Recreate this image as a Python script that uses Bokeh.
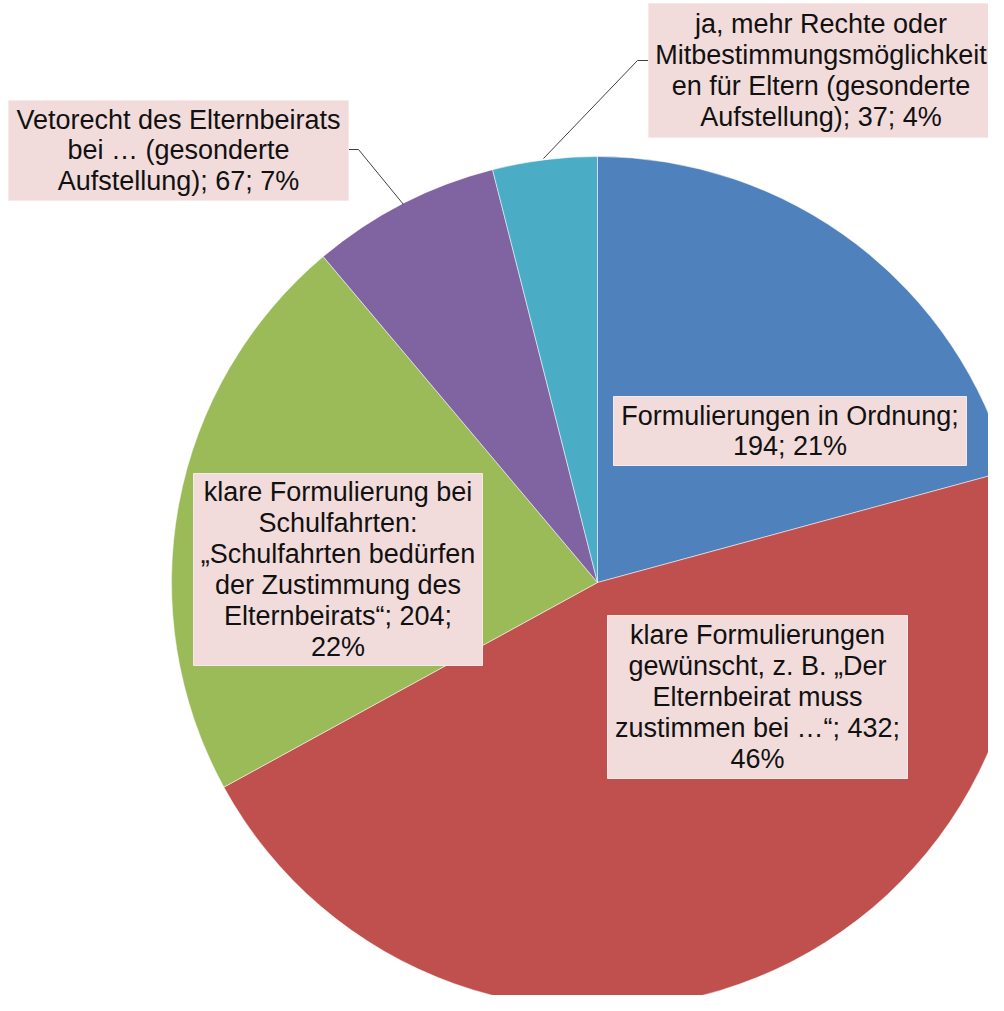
import numpy as np
from bokeh.plotting import figure
from bokeh.models import Range1d, ColumnDataSource
from bokeh.core.properties import value
from bokeh.embed import file_html
from bokeh.resources import INLINE

# ---- data ----
categories = [
    "Formulierungen in Ordnung",
    "klare Formulierungen gewünscht",
    "klare Formulierung bei Schulfahrten",
    "Vetorecht des Elternbeirats",
    "ja, mehr Rechte oder Mitbestimmungsmöglichkeiten",
]
counts = [194, 432, 204, 67, 37]
colors = ["#4F81BD", "#C0504D", "#9BBB59", "#8064A2", "#4BACC6"]
label_texts = [
    "Formulierungen in Ordnung;\n194; 21%",
    "klare Formulierungen\ngewünscht, z. B. „Der\nElternbeirat muss\nzustimmen bei …“; 432;\n46%",
    "klare Formulierung bei\nSchulfahrten:\n„Schulfahrten bedürfen\nder Zustimmung des\nElternbeirats“; 204;\n22%",
    "Vetorecht des Elternbeirats\nbei … (gesonderte\nAufstellung); 67; 7%",
    "ja, mehr Rechte oder\nMitbestimmungsmöglichkeit\nen für Eltern (gesonderte\nAufstellung); 37; 4%",
]

# ---- layout (pixel coords of the reference; y down) ----
W, H = 988, 995
CX, CY, R = 597, 582, 426
# label boxes: (left, top, right, bottom)
boxes = [
    (613, 396, 966, 465),
    (607, 615, 907, 778),
    (193, 473, 482, 665),
    (8, 100, 348, 200),
    (648, 3, 993, 137),
]
leaders = {
    3: [(348, 149), (358, 149), (403, 204)],
    4: [(648, 60), (637, 60), (543, 158)],
}

TOP = 1011

def fy(y):
    return TOP - y

p = figure(width=W, height=H, output_backend="svg", toolbar_location=None,
           x_range=Range1d(0, W), y_range=Range1d(fy(H), fy(0)),
           min_border=0)
p.axis.visible = False
p.grid.visible = False
p.outline_line_color = None
p.background_fill_color = "white"
p.border_fill_color = "white"

total = float(sum(counts))
frac = np.array(counts) / total
cum = np.concatenate([[0.0], np.cumsum(frac)])
start = np.pi / 2 - cum[1:] * 2 * np.pi
end = np.pi / 2 - cum[:-1] * 2 * np.pi

src = ColumnDataSource(dict(start=start, end=end, color=colors, cat=categories))
p.wedge(x=CX, y=fy(CY), radius=R, start_angle="start", end_angle="end",
        fill_color="color", line_color="white", line_alpha=0.5, line_width=1,
        source=src)

for i, pts in leaders.items():
    p.line([q[0] for q in pts], [fy(q[1]) for q in pts], line_color="#404040",
           line_width=1)

l = [b[0] for b in boxes]
t = [fy(b[1]) for b in boxes]
r = [b[2] for b in boxes]
b_ = [fy(b[3]) for b in boxes]
p.quad(left=l, right=r, top=t, bottom=b_, fill_color="#F2DCDB",
       line_color="#F7E9E9", line_width=1)

cx = [(b[0] + b[2]) / 2 for b in boxes]
cy = [fy((b[1] + b[3]) / 2) for b in boxes]
p.text(x=cx, y=cy, text=label_texts, text_align="center", text_baseline="middle",
       text_font=value("Liberation Sans"), text_font_size="27px",
       text_color="#111111", text_line_height=1.03)

open("out.html", "w").write(file_html(p, INLINE))
